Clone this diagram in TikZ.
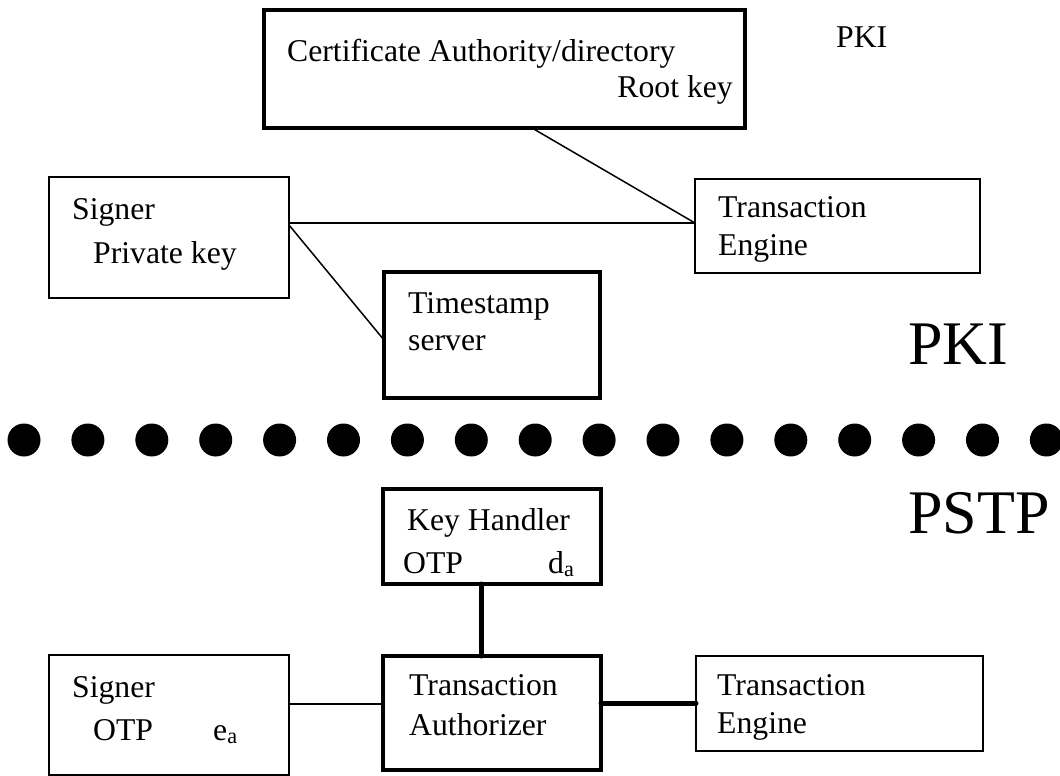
\documentclass[tikz,border=0pt]{standalone}
\usepackage{fontspec}
\setmainfont{Liberation Serif}
\begin{document}
\begin{tikzpicture}[x=1pt,y=-1pt,
  box/.style={draw,line width=1.5pt,inner sep=0pt,outer sep=0pt,anchor=north west},
  thickbox/.style={box,line width=4pt},
  lbl/.style={inner sep=0pt,font=\fontsize{31.7}{38}\selectfont},
  big/.style={inner sep=0pt,font=\fontsize{62}{70}\selectfont},
  thinline/.style={line width=1.5pt},
  thickline/.style={line width=5pt,line cap=round}]
\useasboundingbox (0,0) rectangle (1060,776);
% PKI part
\node[thickbox,minimum width=481pt,minimum height=118pt] (ca) at (264,10) {};
\node[lbl,anchor=base west] (catxt) at (287,62) {Certificate Authority/directory};
\node[lbl,anchor=base east] (root) at (733,97) {Root key};
\node[lbl,anchor=base west] (pkismall) at (836,48) {PKI};
\node[box,minimum width=240pt,minimum height=121pt] (s1) at (49,177) {};
\node[lbl,anchor=base west] (s1a) at (72,219) {Signer};
\node[lbl,anchor=base west] (s1b) at (93,263) {Private key};
\node[box,minimum width=285pt,minimum height=94pt] (te1) at (695,179) {};
\node[lbl,anchor=base west] (te1a) at (718,217) {Transaction};
\node[lbl,anchor=base west] (te1b) at (718,255) {Engine};
\node[thickbox,minimum width=216pt,minimum height=126pt] (ts) at (384,272) {};
\node[lbl,anchor=base west] (tsa) at (408,313) {Timestamp};
\node[lbl,anchor=base west] (tsb) at (408,350) {server};
\node[big,anchor=base west] (pki) at (908,364) {PKI};
\draw[thinline] ([xshift=268pt]ca.south west) -- ([yshift=-44pt]te1.north west);
\draw[thinline] ([yshift=-46pt]s1.north east) -- ([yshift=-44pt]te1.north west);
\draw[thinline] ([yshift=-48pt]s1.north east) -- ([yshift=-68pt]ts.north west);
% separator
\foreach \k in {0,...,16} \fill (24+63.9*\k,440) circle (16.5);
% PSTP part
\node[big,anchor=base west] (pstp) at (908,533) {PSTP};
\node[thickbox,minimum width=218pt,minimum height=95pt] (kh) at (383,489) {};
\node[lbl,anchor=base west] (kha) at (407,530) {Key Handler};
\node[lbl,anchor=base west] (khb) at (403,573) {OTP};
\node[lbl,anchor=base west] (khc) at (548,573) {d\textsubscript{a}};
\node[thickbox,minimum width=218pt,minimum height=114pt] (ta) at (383,656) {};
\node[lbl,anchor=base west] (taa) at (409,695) {Transaction};
\node[lbl,anchor=base west] (tab) at (409,735) {Authorizer};
\node[box,minimum width=240pt,minimum height=120pt] (s2) at (49,655) {};
\node[lbl,anchor=base west] (s2a) at (72,697) {Signer};
\node[lbl,anchor=base west] (s2b) at (93,740) {OTP};
\node[lbl,anchor=base west] (s2c) at (213,740) {e\textsubscript{a}};
\node[box,minimum width=287pt,minimum height=95pt] (te2) at (696,656) {};
\node[lbl,anchor=base west] (te2a) at (717,695) {Transaction};
\node[lbl,anchor=base west] (te2b) at (717,733) {Engine};
\draw[thickline] ([xshift=98pt]kh.south west) -- ([xshift=98pt]ta.north west);
\draw[thinline] ([yshift=-49pt]s2.north east) -- ([yshift=-48pt]ta.north west);
\draw[thickline] ([yshift=-47pt]ta.north east) -- ([yshift=-47pt]te2.north west);
\end{tikzpicture}
\end{document}
